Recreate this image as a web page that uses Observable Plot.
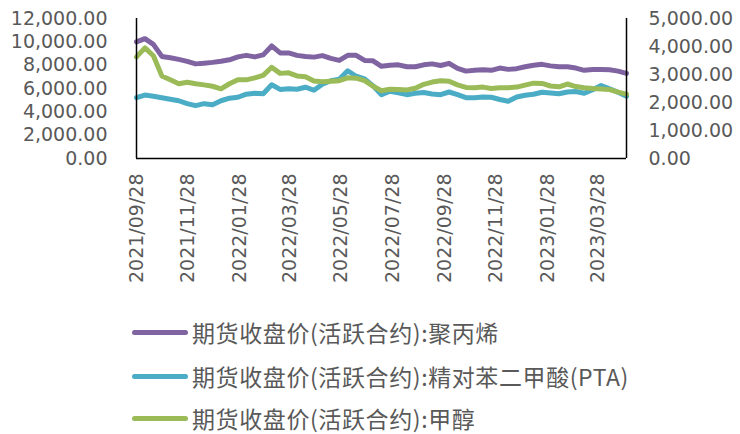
<!DOCTYPE html>
<html>
<head>
<meta charset="utf-8">
<script src="https://cdn.jsdelivr.net/npm/d3@7"></script>
<script src="https://cdn.jsdelivr.net/npm/@observablehq/plot@0.6"></script>
<style>
  body { margin: 0; background: #fff; }
  #wrap { position: relative; width: 740px; height: 434px; }
  #chart { position: absolute; left: 0; top: 0; }
  .row { position: absolute; left: 0; height: 26px; width: 740px; }
  .sw { position: absolute; left: 132px; top: 10.5px; width: 56px; height: 5px; border-radius: 3px; }
  .lt { position: absolute; left: 192px; top: 0; line-height: 26px; font-size: 23px; letter-spacing: 0.6px;
        font-family: "Noto Sans CJK SC", "Noto Sans", sans-serif; color: #595959; white-space: nowrap; }
</style>
</head>
<body>
<div id="wrap">
  <div id="chart"></div>
  <div id="legend"></div>
</div>
<script>
// ---- data ----
const dates = ["2021-09-28","2021-10-08","2021-10-18","2021-10-28","2021-11-07","2021-11-17","2021-11-27","2021-12-07","2021-12-17","2021-12-27",
  "2022-01-06","2022-01-16","2022-01-26","2022-02-05","2022-02-15","2022-02-25","2022-03-07","2022-03-17","2022-03-27","2022-04-06",
  "2022-04-16","2022-04-26","2022-05-06","2022-05-16","2022-05-26","2022-06-05","2022-06-15","2022-06-25","2022-07-05","2022-07-15",
  "2022-07-25","2022-08-04","2022-08-14","2022-08-24","2022-09-03","2022-09-13","2022-09-23","2022-10-03","2022-10-13","2022-10-23",
  "2022-11-02","2022-11-12","2022-11-22","2022-12-02","2022-12-12","2022-12-22","2023-01-01","2023-01-11","2023-01-21","2023-01-31",
  "2023-02-10","2023-02-20","2023-03-02","2023-03-12","2023-03-22","2023-04-01","2023-04-11","2023-04-21","2023-05-01"];

// 聚丙烯 (left axis)
const ppValues = [9990,10270,9780,8750,8640,8500,8330,8110,8170,8240,8340,8460,8710,8840,8710,8880,9650,9050,9050,8840,
  8750,8690,8820,8580,8410,8840,8840,8410,8370,7900,7990,8030,7860,7860,8030,8110,7970,8160,7730,7490,
  7560,7600,7560,7750,7640,7700,7860,7990,8070,7940,7860,7870,7750,7560,7620,7630,7600,7490,7300];

// 精对苯二甲酸(PTA) (left axis)
const ptaValues = [5210,5440,5340,5210,5080,4950,4700,4530,4700,4610,4950,5170,5250,5510,5590,5550,6320,5920,5980,5940,
  6110,5850,6360,6660,6790,7520,7050,6830,6230,5470,5770,5640,5470,5590,5650,5530,5470,5700,5470,5210,
  5210,5270,5250,5060,4910,5270,5420,5510,5680,5610,5550,5700,5740,5590,5890,6260,5980,5680,5340];

// 甲醇 (right axis)
const meohValues = [3630,3950,3670,2950,2810,2670,2720,2670,2630,2580,2490,2670,2810,2810,2880,2970,3260,3040,3060,2950,
  2920,2770,2740,2760,2780,2880,2870,2780,2580,2420,2470,2460,2450,2510,2650,2730,2780,2760,2630,2540,
  2530,2550,2500,2530,2530,2550,2620,2690,2680,2590,2560,2660,2570,2530,2500,2480,2460,2370,2300];

const seriesNames = ["期货收盘价(活跃合约):聚丙烯", "期货收盘价(活跃合约):精对苯二甲酸(PTA)", "期货收盘价(活跃合约):甲醇"];
const seriesColors = ["#8064A2", "#4BACC6", "#9BBB59"];

const leftTicks = [0, 2000, 4000, 6000, 8000, 10000, 12000];
const rightTicks = [0, 1000, 2000, 3000, 4000, 5000];
const dateTicks = ["2021-09-28","2021-11-28","2022-01-28","2022-03-28","2022-05-28","2022-07-28","2022-09-28","2022-11-28","2023-01-28","2023-03-28"];
const xStart = "2021-09-28", xEnd = "2023-05-01";

// ---- build ----
const leftMax = 12000, rightMax = 5000, k = leftMax / rightMax;
const parse = d3.utcParse("%Y-%m-%d");
const fmt = d3.format(",.2f");
const pp = dates.map((d, i) => ({date: parse(d), v: ppValues[i]}));
const pta = dates.map((d, i) => ({date: parse(d), v: ptaValues[i]}));
const meoh = dates.map((d, i) => ({date: parse(d), v: meohValues[i] * k}));

const chart = Plot.plot({
  width: 740,
  height: 300,
  marginLeft: 136,
  marginRight: 114,
  marginTop: 18,
  marginBottom: 142,
  style: {fontFamily: "'DejaVu Sans', sans-serif", fontSize: "19px", color: "#595959", background: "white"},
  x: {type: "utc", domain: [parse(xStart), parse(xEnd)]},
  y: {domain: [0, leftMax]},
  marks: [
    Plot.axisY({anchor: "left", ticks: leftTicks, tickFormat: fmt, tickSize: 0, tickPadding: 29, label: null, fontSize: 19}),
    Plot.axisY({anchor: "right", ticks: rightTicks.map(t => t * k), tickFormat: d => fmt(d / k), tickSize: 0, tickPadding: 22, label: null, fontSize: 19}),
    Plot.axisX({ticks: dateTicks.map(parse), tickFormat: d3.utcFormat("%Y/%m/%d"), tickRotate: -90, tickSize: 0, tickPadding: 15, label: null, fontSize: 19}),
    Plot.line(pp, {x: "date", y: "v", stroke: seriesColors[0], strokeWidth: 5, strokeLinejoin: "round", strokeLinecap: "round"}),
    Plot.line(pta, {x: "date", y: "v", stroke: seriesColors[1], strokeWidth: 5, strokeLinejoin: "round", strokeLinecap: "round"}),
    Plot.line(meoh, {x: "date", y: "v", stroke: seriesColors[2], strokeWidth: 5, strokeLinejoin: "round", strokeLinecap: "round"}),
    Plot.ruleY([0], {stroke: "#000", strokeWidth: 1.5}),
    Plot.ruleX([parse(xStart)], {stroke: "#000", strokeWidth: 1.5}),
    Plot.ruleX([parse(xEnd)], {stroke: "#000", strokeWidth: 1.5})
  ]
});
document.getElementById("chart").appendChild(chart);

// legend below the chart
const rowCenters = [332, 376, 418];
const legend = document.getElementById("legend");
seriesNames.forEach((name, i) => {
  const row = document.createElement("div");
  row.className = "row";
  row.style.top = (rowCenters[i] - 13) + "px";
  const sw = document.createElement("div");
  sw.className = "sw";
  sw.style.background = seriesColors[i];
  const t = document.createElement("div");
  t.className = "lt";
  t.textContent = name;
  row.appendChild(sw);
  row.appendChild(t);
  legend.appendChild(row);
});
</script>
</body>
</html>
